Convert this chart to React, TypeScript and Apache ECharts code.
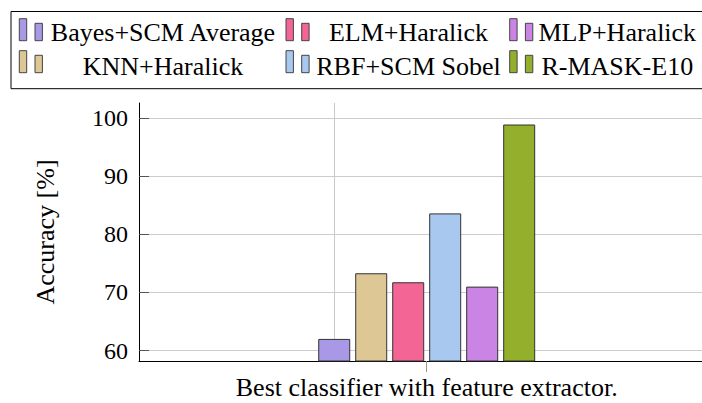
import React, { useEffect, useRef } from "react";
import * as echarts from "echarts";

const categories = [""];
const seriesNames = [
  "Bayes+SCM Average",
  "KNN+Haralick",
  "ELM+Haralick",
  "RBF+SCM Sobel",
  "MLP+Haralick",
  "R-MASK-E10",
];
const seriesValues = [62.0, 73.3, 71.75, 83.6, 71.0, 98.9];
const seriesColors = ["#a998e6", "#dcc795", "#f26594", "#a8c8f0", "#c984e4", "#93af2b"];
// legend layout order (row-wise, 3 columns)
const legendOrder = [0, 2, 4, 1, 3, 5];
const yTickLabels = [60, 70, 80, 90, 100];

const FONT = "Liberation Serif";

export default function App() {
  const ref = useRef<HTMLDivElement>(null);
  useEffect(() => {
    if (!ref.current) return;
    const chart = echarts.init(ref.current, null, { renderer: "svg" });

    const colIconX = [19.3, 286, 509.7];
    const colTextCenter = [163, 408.5, 617.3];
    const rowIconBottom = [40.7, 72.7];
    const rowTextMid = [32.2, 66.7];
    const legendGraphics: any[] = [
      {
        type: "rect",
        shape: { x: 11, y: 11.5, width: 720, height: 77.2 },
        style: { fill: "#fff", stroke: "#000", lineWidth: 1 },
        z: 0,
      },
    ];
    legendOrder.forEach((si, k) => {
      const col = k % 3;
      const row = Math.floor(k / 3);
      const b = rowIconBottom[row];
      const color = seriesColors[si];
      legendGraphics.push({
        type: "rect",
        shape: { x: colIconX[col], y: b - 22, width: 7.4, height: 22 },
        style: { fill: color, stroke: "#444", lineWidth: 1 },
        z: 1,
      });
      legendGraphics.push({
        type: "rect",
        shape: { x: colIconX[col] + 15.7, y: b - 17.4, width: 7.4, height: 17.4 },
        style: { fill: color, stroke: "#444", lineWidth: 1 },
        z: 1,
      });
      legendGraphics.push({
        type: "text",
        x: colTextCenter[col],
        y: rowTextMid[row],
        style: {
          text: seriesNames[si],
          fontFamily: FONT,
          fontSize: 26,
          fill: "#000",
          textAlign: "center",
          textVerticalAlign: "middle",
        },
        z: 1,
      });
    });

    const series: any[] = seriesNames.map((name, i) => ({
      name,
      type: "bar",
      data: [seriesValues[i]],
      barWidth: 32,
      barGap: "15.6%",
      itemStyle: { color: seriesColors[i], borderColor: "#333", borderWidth: 1 },
      z: 3,
    }));
    series[0].markLine = {
      silent: true,
      symbol: "none",
      label: { show: false },
      lineStyle: { color: "#c8c8c8", type: "solid", width: 1 },
      data: [{ xAxis: 0 }],
      z: 1,
    };

    chart.setOption({
      animation: false,
      textStyle: { fontFamily: FONT },
      grid: { left: 139, right: -12.4, top: 103, bottom: 42, outerBoundsMode: "none" },
      graphic: legendGraphics,
      xAxis: {
        type: "category",
        data: categories,
        name: "Best classifier with feature extractor.",
        nameLocation: "middle",
        nameGap: 26,
        nameTextStyle: {
          fontFamily: FONT,
          fontSize: 26,
          lineHeight: 22,
          color: "#000",
          verticalAlign: "middle",
        },
        axisLine: { lineStyle: { color: "#000", width: 1 } },
        axisTick: { show: true, alignWithLabel: true, length: 11, lineStyle: { color: "#999" } },
        axisLabel: { show: false },
        splitLine: { show: false },
      },
      yAxis: {
        type: "value",
        min: 58.2,
        max: 102.6,
        splitNumber: 5,
        name: "Accuracy [%]",
        nameLocation: "middle",
        nameGap: 81,
        nameTextStyle: { fontFamily: FONT, fontSize: 26, color: "#000" },
        axisLine: { show: true, lineStyle: { color: "#000", width: 1 } },
        axisTick: { show: true, inside: true, length: 10, lineStyle: { color: "#555" } },
        axisLabel: {
          fontFamily: FONT,
          fontSize: 24,
          color: "#000",
          margin: 11,
          showMinLabel: false,
          showMaxLabel: false,
          formatter: (v: number) => (yTickLabels.includes(Math.round(v)) && Math.abs(v - Math.round(v)) < 1e-6 ? String(v) : ""),
        },
        splitLine: { show: true, showMinLine: false, showMaxLine: false, lineStyle: { color: "#cccccc", width: 1 } },
      },
      series,
    });
    return () => chart.dispose();
  }, []);
  return <div ref={ref} style={{ width: 702, height: 403, position: "absolute", left: 0, top: 0 }} />;
}
